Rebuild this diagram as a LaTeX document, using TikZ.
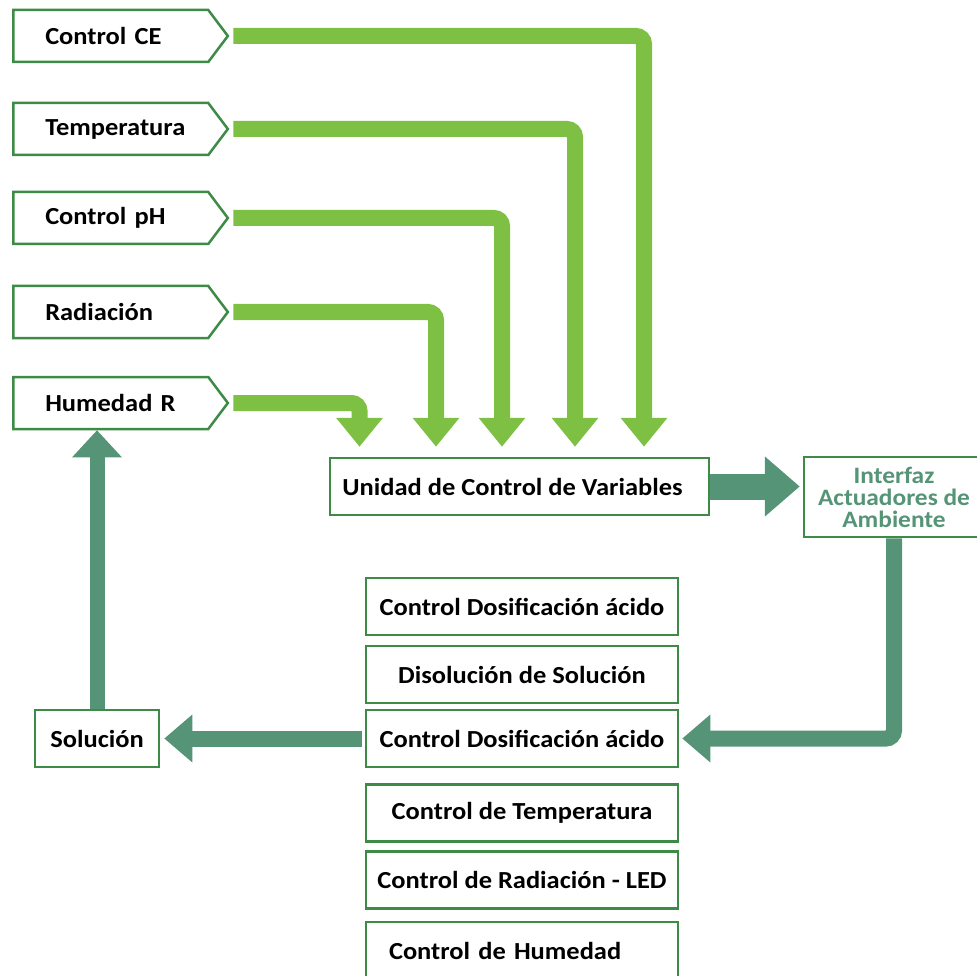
\documentclass[tikz,border=0pt]{standalone}
\usepackage{fontspec}
\setmainfont{Carlito}[FakeStretch=1.08]
\usetikzlibrary{arrows.meta,shapes.symbols}

\definecolor{feedgreen}{HTML}{7DC043}
\definecolor{flowgreen}{HTML}{559476}
\definecolor{edgegreen}{HTML}{3E8A47}

\tikzset{
  sensor/.style={shape=signal, signal to=east, signal pointer angle=106,
    draw=edgegreen, line width=2.5pt, minimum height=52pt,
    text width=163pt, inner xsep=16pt, inner ysep=0pt, align=left,
    font=\bfseries\fontsize{24.5}{27}\selectfont,
    execute at begin node={\hspace*{16pt}}},
  block/.style={draw=edgegreen, line width=2.5pt, fill=white,
    minimum height=57pt, inner sep=0pt,
    font=\bfseries\fontsize{24.5}{27}\selectfont},
  feed/.style={feedgreen, line width=16pt, rounded corners=8pt,
    shorten >=10pt, -{Triangle[width=45pt,length=29pt]}},
  flow/.style={flowgreen, line width=16pt, rounded corners=8pt,
    -{Triangle[width=46pt,length=28pt]}},
}

\begin{document}
\begin{tikzpicture}[x=1pt,y=-1pt]
  \useasboundingbox (0,0) rectangle (977,976);

  %% sensores
  \node[sensor, anchor=west] (ce)   at (12,36)  {Control CE};
  \node[sensor, anchor=west] (temp) at (12,129) {Temperatura};
  \node[sensor, anchor=west] (ph)   at (12,218) {Control pH};
  \node[sensor, anchor=west] (rad)  at (12,312) {Radiación};
  \node[sensor, anchor=west] (hum)  at (12,403) {Humedad R};

  \node[block, minimum width=379pt] (unidad) at (519.5,486.5)
  {Unidad de Control de Variables\hspace*{14pt}};
  \node[block, minimum width=180pt, minimum height=80pt, text=flowgreen,
    align=center, font=\bfseries\fontsize{23.5}{22}\selectfont]
  (interfaz) at (894,497) {Interfaz\\Actuadores de\\Ambiente};

  %% actuadores
  \foreach \name/\y/\txt in {act1/606.5/Control Dosificación ácido,
    act2/674.5/Disolución de Solución, act3/738.5/Control Dosificación ácido,
    act4/813/Control de Temperatura, act5/880/Control de Radiación - LED}
  \node[block, minimum width=312pt] (\name) at (522,\y) {\txt};
  \node[block, minimum width=312pt, text width=266pt, align=left]
  (act6) at (522,950.5) {Control de Humedad};

  \node[block, minimum width=124pt] (solucion) at (97,738.5) {Solución};

  %% entradas -> unidad
  \draw[feed] ([xshift=4pt]ce.east)   -| ([xshift=124.5pt]unidad.north);
  \draw[feed] ([xshift=4pt]temp.east) -| ([xshift=55.5pt]unidad.north);
  \draw[feed] ([xshift=4pt]ph.east)   -| ([xshift=-17.5pt]unidad.north);
  \draw[feed] ([xshift=4pt]rad.east)  -| ([xshift=-83.5pt]unidad.north);
  \draw[feed] ([xshift=4pt]hum.east)  -| ([xshift=-160pt]unidad.north);

  %% lazo
  \draw[flow, line width=26pt, shorten >=3pt,
    -{Triangle[width=58pt,length=35pt]}]
  (unidad.east) -- (unidad.east -| interfaz.west);
  \draw[flow, shorten >=3pt] (interfaz.south) |- (act3.east);
  \draw[flow, shorten >=4pt] ([xshift=-3pt]act3.west) -- (solucion.east);
  \draw[flow, line width=15pt, -{Triangle[width=48pt,length=27pt]}]
  (solucion.north) -- (solucion.north |- hum.south);

\end{tikzpicture}
\end{document}
